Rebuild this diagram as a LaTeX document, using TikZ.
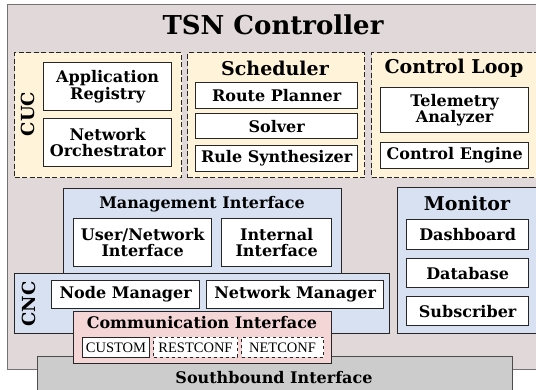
\documentclass[tikz,border=0pt]{standalone}
\usepackage{fontspec}
\setmainfont{DejaVu Serif}
\newfontfamily\protofont{Liberation Serif}
\usetikzlibrary{positioning}

\definecolor{ctrlfill}{HTML}{E0D8D9}
\definecolor{cucfill}{HTML}{FFF4D9}
\definecolor{cncfill}{HTML}{D7E1F2}
\definecolor{commfill}{HTML}{F4D6D6}
\definecolor{sbfill}{HTML}{CCCCCC}

\tikzset{
  block/.style={rectangle, anchor=north west, inner sep=0pt, draw=black!85, line width=1.2pt},
  dashblock/.style={block, dash pattern=on 5pt off 2.5pt, fill=cucfill},
  blueblock/.style={block, fill=cncfill},
  comp/.style={block, fill=white, line width=1.3pt, align=center,
    font=\bfseries\fontsize{16}{16.5}\selectfont},
  proto/.style={block, fill=white, line width=1pt, font=\protofont\fontsize{14.5}{14.5}\selectfont},
  heading/.style={font=\bfseries\fontsize{19}{19}\selectfont, inner sep=0pt},
  subheading/.style={font=\bfseries\fontsize{16}{16}\selectfont, inner sep=0pt},
  sidelabel/.style={font=\bfseries\fontsize{18}{18}\selectfont, rotate=90, inner sep=0pt}
}

\begin{document}
\begin{tikzpicture}[x=1pt, y=-1pt]
\useasboundingbox (0,0) rectangle (536,390);

% controller frame
\node[block, draw=black!55, line width=0.8pt, fill=ctrlfill,
  minimum width=540, minimum height=365] (ctrl) at (7,4) {};
\node[font=\bfseries\fontsize{26}{26}\selectfont, inner sep=0pt] (ctrlt) at (273,25) {TSN Controller};

% CUC
\node[dashblock, minimum width=167, minimum height=125] (cuc) at (14,52) {};
\node[sidelabel] (cuct) at (28,114) {CUC};
\node[comp, minimum width=128, minimum height=48] (appreg) at (43,62) {Application\\Registry};
\node[comp, minimum width=128, minimum height=48] (netorch) at (43,118) {Network\\Orchestrator};

% scheduler
\node[dashblock, minimum width=177, minimum height=125] (sched) at (187,52) {};
\node[heading] (schedt) at (275,68) {Scheduler};
\node[comp, minimum width=162, minimum height=26] (route) at (195,82) {Route Planner};
\node[comp, minimum width=162, minimum height=25] (solver) at (195,113) {Solver};
\node[comp, minimum width=162, minimum height=26] (rules) at (195,145) {Rule Synthesizer};

% control loop
\node[dashblock, minimum width=175, minimum height=125] (loop) at (371,52) {};
\node[heading] (loopt) at (454,68) {Control Loop};
\node[comp, minimum width=148, minimum height=45] (telem) at (380,87) {Telemetry\\Analyzer};
\node[comp, minimum width=148, minimum height=26] (engine) at (380,142) {Control Engine};

% southbound
\node[block, fill=sbfill, draw=black!70, minimum width=475, minimum height=40] (south) at (37,356) {};
\node[subheading] (southt) at (274,378) {Southbound Interface};

% CNC
\node[blueblock, minimum width=375, minimum height=60] (cnc) at (14,273) {};
\node[sidelabel] (cnct) at (29,304) {CNC};
\node[comp, minimum width=148, minimum height=28] (nodemgr) at (51,280) {Node Manager};
\node[comp, minimum width=177, minimum height=28] (netmgr) at (206,280) {Network Manager};

% management interface
\node[blueblock, minimum width=278, minimum height=85] (mgmt) at (63,188) {};
\node[subheading] (mgmtt) at (202,204) {Management Interface};
\node[comp, minimum width=138, minimum height=48] (usernet) at (73,218) {User/Network\\Interface};
\node[comp, minimum width=110, minimum height=48] (internal) at (221,218) {Internal\\Interface};

% communication interface
\node[block, fill=commfill, minimum width=258, minimum height=52] (comm) at (73,311) {};
\node[subheading] (commt) at (202,323) {Communication Interface};
\node[proto, minimum width=67, minimum height=20] (custom) at (82,337) {CUSTOM};
\node[proto, dashed, minimum width=84, minimum height=20] (restconf) at (153,337) {RESTCONF};
\node[proto, dashed, minimum width=82, minimum height=20] (netconf) at (241,337) {NETCONF};

% monitor
\node[blueblock, minimum width=150, minimum height=146] (mon) at (397,187) {};
\node[heading] (mont) at (467,203) {Monitor};
\node[comp, minimum width=122, minimum height=30] (dash) at (406,219) {Dashboard};
\node[comp, minimum width=122, minimum height=29] (db) at (406,258) {Database};
\node[comp, minimum width=122, minimum height=29] (subs) at (406,296) {Subscriber};
\end{tikzpicture}
\end{document}
